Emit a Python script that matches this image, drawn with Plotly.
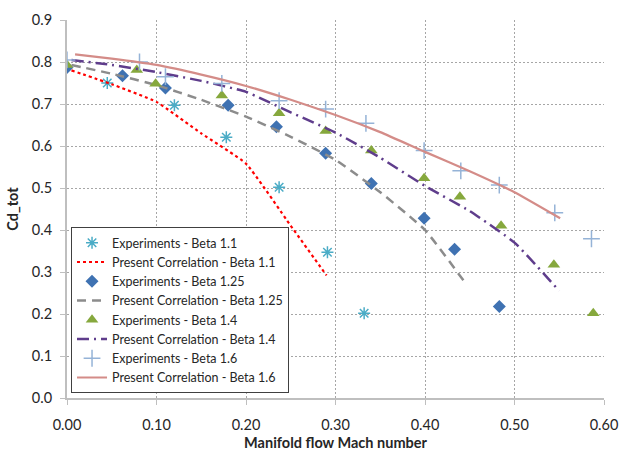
import plotly.graph_objects as go

# Experiments - Beta 1.1
exp11_x = [0.045, 0.12, 0.178, 0.237, 0.291, 0.332]
exp11_y = [0.750, 0.697, 0.621, 0.502, 0.347, 0.202]
# Present Correlation - Beta 1.1
cor11_x = [0.005, 0.05, 0.10, 0.15, 0.20, 0.25, 0.29]
cor11_y = [0.780, 0.747, 0.705, 0.630, 0.558, 0.410, 0.292]

# Experiments - Beta 1.25
exp125_x = [0.0, 0.062, 0.11, 0.18, 0.234, 0.289, 0.34, 0.399, 0.433, 0.483]
exp125_y = [0.787, 0.767, 0.738, 0.697, 0.646, 0.583, 0.511, 0.428, 0.354, 0.218]
# Present Correlation - Beta 1.25
cor125_x = [0.005, 0.05, 0.10, 0.15, 0.20, 0.25, 0.30, 0.35, 0.40, 0.445]
cor125_y = [0.793, 0.772, 0.745, 0.710, 0.670, 0.622, 0.567, 0.490, 0.400, 0.274]

# Experiments - Beta 1.4
exp14_x = [0.0, 0.078, 0.099, 0.173, 0.237, 0.289, 0.34, 0.399, 0.439, 0.485, 0.544, 0.588]
exp14_y = [0.793, 0.781, 0.748, 0.720, 0.678, 0.636, 0.589, 0.523, 0.479, 0.410, 0.317, 0.202]
# Present Correlation - Beta 1.4
cor14_x = [0.005, 0.05, 0.10, 0.15, 0.20, 0.25, 0.30, 0.35, 0.40, 0.45, 0.50, 0.55]
cor14_y = [0.805, 0.793, 0.776, 0.755, 0.729, 0.680, 0.632, 0.572, 0.505, 0.445, 0.370, 0.255]

# Experiments - Beta 1.6
exp16_x = [0.0, 0.081, 0.11, 0.173, 0.237, 0.289, 0.334, 0.399, 0.44, 0.483, 0.545, 0.586]
exp16_y = [0.805, 0.800, 0.765, 0.749, 0.708, 0.688, 0.654, 0.589, 0.541, 0.507, 0.441, 0.379]
# Present Correlation - Beta 1.6
cor16_x = [0.009, 0.05, 0.10, 0.15, 0.20, 0.25, 0.30, 0.35, 0.40, 0.45, 0.50, 0.551]
cor16_y = [0.818, 0.808, 0.793, 0.770, 0.743, 0.710, 0.674, 0.633, 0.586, 0.540, 0.490, 0.428]

x_ticks = [0.0, 0.1, 0.2, 0.3, 0.4, 0.5, 0.6]
y_ticks = [0.0, 0.1, 0.2, 0.3, 0.4, 0.5, 0.6, 0.7, 0.8, 0.9]

FONT = "Lato"

fig = go.Figure()
fig.add_trace(go.Scatter(x=exp11_x, y=exp11_y, mode="markers", name="Experiments - Beta 1.1",
                         marker=dict(symbol="asterisk-open", size=10, color="#4BACC6",
                                     line=dict(color="#4BACC6", width=1.5))))
fig.add_trace(go.Scatter(x=cor11_x, y=cor11_y, mode="lines", name="Present Correlation - Beta 1.1",
                         line=dict(color="#FF0000", width=2.2, dash="dot", shape="spline", smoothing=0.4)))
fig.add_trace(go.Scatter(x=exp125_x, y=exp125_y, mode="markers", name="Experiments - Beta 1.25",
                         marker=dict(symbol="diamond", size=10, color="#3F72B2")))
fig.add_trace(go.Scatter(x=cor125_x, y=cor125_y, mode="lines", name="Present Correlation - Beta 1.25",
                         line=dict(color="#8C8C8C", width=2.5, dash="9px,6px", shape="spline", smoothing=0.4)))
fig.add_trace(go.Scatter(x=exp14_x, y=exp14_y, mode="markers", name="Experiments - Beta 1.4",
                         marker=dict(symbol="triangle-up", size=11, color="#86A83D")))
fig.add_trace(go.Scatter(x=cor14_x, y=cor14_y, mode="lines", name="Present Correlation - Beta 1.4",
                         line=dict(color="#5F3D8C", width=2.5, dash="12px,5px,2px,5px", shape="spline", smoothing=0.4)))
fig.add_trace(go.Scatter(x=exp16_x, y=exp16_y, mode="markers", name="Experiments - Beta 1.6",
                         marker=dict(symbol="cross-thin-open", size=12, color="#95B3D7",
                                     line=dict(color="#95B3D7", width=1.5))))
fig.add_trace(go.Scatter(x=cor16_x, y=cor16_y, mode="lines", name="Present Correlation - Beta 1.6",
                         line=dict(color="#D48C88", width=2.2, shape="spline", smoothing=0.4)))

fig.update_layout(
    width=620, height=451,
    margin=dict(l=67, r=16, t=20, b=53, autoexpand=False),
    paper_bgcolor="white", plot_bgcolor="white",
    font=dict(family=FONT, size=14.5, color="#262626"),
    showlegend=True,
    legend=dict(x=0.0075, y=0.452, xanchor="left", yanchor="top",
                bgcolor="white", bordercolor="#404040", borderwidth=1,
                font=dict(family=FONT, size=12.5, color="#262626")),
    xaxis=dict(range=[0, 0.6], tickvals=x_ticks, tickformat=".2f",
               showgrid=True, gridcolor="#A6A6A6", griddash="2px,2px", gridwidth=1,
               showline=True, linecolor="#BFBFBF", linewidth=2,
               ticks="outside", ticklen=5, tickcolor="#BFBFBF",
               zeroline=False, automargin=False, ticklabeloverflow="allow",
               ticklabelstandoff=8,
               title=dict(text="<b>Manifold flow Mach number</b>", font=dict(size=14.5), standoff=7)),
    yaxis=dict(range=[0, 0.9], tickvals=y_ticks, tickformat=".1f",
               showgrid=True, gridcolor="#A6A6A6", griddash="2px,2px", gridwidth=1,
               showline=True, linecolor="#BFBFBF", linewidth=2,
               ticks="outside", ticklen=5, tickcolor="#BFBFBF",
               zeroline=False, automargin=False, ticklabelstandoff=5,
               title=dict(text="<b>Cd_tot</b>", font=dict(size=14.5), standoff=10)),
)

fig.write_html("out.html", config={"displayModeBar": False},
               post_script="document.body.style.margin='0';document.body.style.overflow='hidden';")
